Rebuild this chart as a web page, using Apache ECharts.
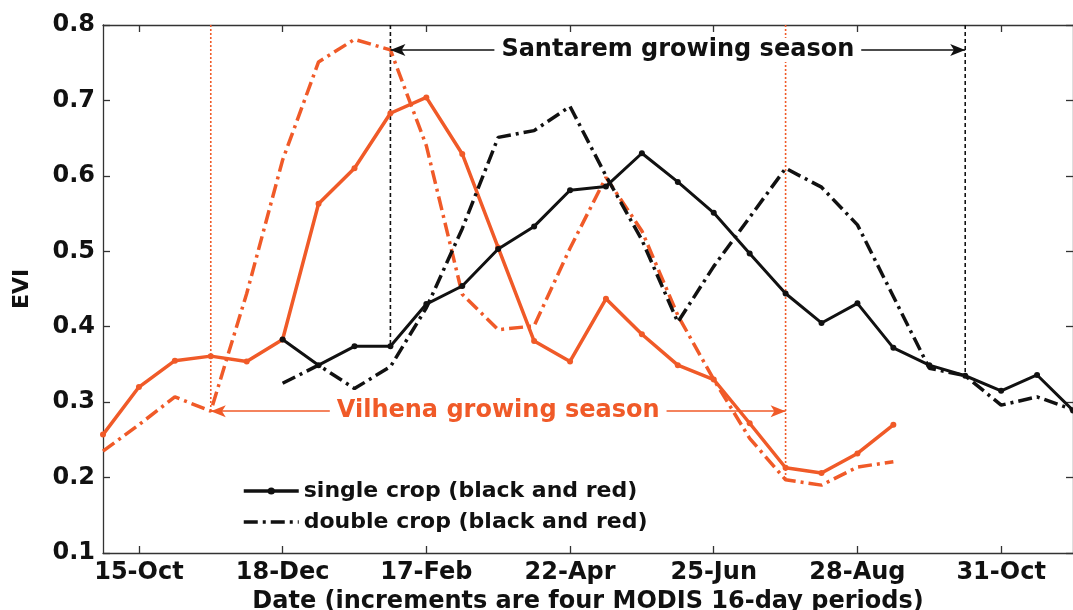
<!DOCTYPE html>
<html>
<head>
<meta charset="utf-8">
<script src="https://cdn.jsdelivr.net/npm/echarts@6/dist/echarts.min.js"></script>
<style>
html, body { margin: 0; padding: 0; background: #fff; }
#evi { width: 1073px; height: 610px; }
</style>
</head>
<body>
<div id="evi"></div>
<script>
// x = MODIS 16-day period, counted from 15-Oct (= 0)
var periods = [-1, 0, 1, 2, 3, 4, 5, 6, 7, 8, 9, 10, 11, 12, 13,
               14, 15, 16, 17, 18, 19, 20, 21, 22, 23, 24, 25, 26];

// Vilhena (red)
var vilhenaSingle = [0.257, 0.320, 0.355, 0.361, 0.354, 0.383, 0.563, 0.610, 0.683, 0.704,
                     0.629, 0.505, 0.381, 0.354, 0.437, 0.390, 0.349, 0.330, 0.272, 0.213,
                     0.206, 0.232, 0.270, null, null, null, null, null];
var vilhenaDouble = [0.235, 0.270, 0.307, 0.288, 0.444, 0.621, 0.751, 0.781, 0.767, 0.640,
                     0.443, 0.396, 0.401, 0.504, 0.598, 0.527, 0.415, 0.330, 0.252, 0.197,
                     0.190, 0.214, 0.221, null, null, null, null, null];

// Santarem (black)
var santaremSingle = [null, null, null, null, null, 0.383, 0.349, 0.374, 0.374, 0.430,
                      0.454, 0.503, 0.533, 0.581, 0.586, 0.630, 0.592, 0.551, 0.497, 0.444,
                      0.405, 0.431, 0.372, 0.349, 0.335, 0.315, 0.336, 0.289];
var santaremDouble = [null, null, null, null, null, 0.325, 0.349, 0.318, 0.347, 0.425,
                      0.530, 0.651, 0.660, 0.692, 0.600, 0.515, 0.406, 0.480, 0.545, 0.610,
                      0.585, 0.535, 0.440, 0.345, 0.335, 0.296, 0.307, 0.290];

var tickPeriods = [0, 4, 8, 12, 16, 20, 24];
var tickLabels = ['15-Oct', '18-Dec', '17-Feb', '22-Apr', '25-Jun', '28-Aug', '31-Oct'];

// growing season start / end periods and arrow heights
var vilhenaSeason = [2, 18];
var santaremSeason = [7, 23];
var vilhenaArrowY = 0.288;
var santaremArrowY = 0.767;

var RED = '#f05a28';
var INK = '#111111';
var FONT = 'DejaVu Sans';

function pairs(values) {
    return periods.map(function (p, i) { return [p, values[i]]; });
}
function valueAt(values, period) {
    return values[periods.indexOf(period)];
}

function seasonLine(period, bottom, color, dash) {
    return {
        type: 'line', silent: true, z: 1, symbol: 'none',
        data: [[period, 0.8], [period, bottom]],
        lineStyle: { color: color, width: 1.6, type: dash }
    };
}

function seasonArrow(season, y, text, color) {
    return {
        type: 'line', silent: true, z: 6, data: [],
        markLine: {
            silent: true, animation: false,
            symbol: ['arrow', 'arrow'], symbolSize: [9, 15],
            lineStyle: { color: color, width: 1.6, type: 'solid' },
            label: {
                show: true, position: 'middle', distance: [0, -12],
                formatter: text, color: color,
                fontFamily: FONT, fontWeight: 'bold', fontSize: 24,
                backgroundColor: '#ffffff', padding: [0, 7]
            },
            emphasis: { disabled: true },
            data: [[{ coord: [season[0], y] }, { coord: [season[1], y] }]]
        }
    };
}

var chart = echarts.init(document.getElementById('evi'));

var option = {
    animation: false,
    backgroundColor: '#ffffff',
    grid: { left: 103, right: 0, top: 25, bottom: 57, outerBoundsMode: 'none' },
    legend: {
        left: 237, top: 475, orient: 'vertical',
        itemWidth: 55, itemHeight: 9, itemGap: 9,
        selectedMode: false,
        lineStyle: { width: 3.5 },
        data: [
            { name: 'single crop (black and red)' },
            { name: 'double crop (black and red)', itemStyle: { opacity: 0 } }
        ],
        textStyle: { color: INK, fontFamily: FONT, fontWeight: 'bold', fontSize: 22, lineHeight: 22 }
    },
    xAxis: [{
        type: 'value', min: -1, max: 26,
        name: 'Date (increments are four MODIS 16-day periods)',
        nameLocation: 'middle', nameGap: 36,
        nameTextStyle: { color: INK, fontFamily: FONT, fontWeight: 'bold', fontSize: 24 },
        axisLine: { show: true, onZero: false, lineStyle: { color: '#333', width: 1.3 } },
        axisTick: { show: true, inside: true, length: 7, customValues: tickPeriods,
                    lineStyle: { color: '#333', width: 1.3 } },
        axisLabel: {
            customValues: tickPeriods, margin: 8,
            color: INK, fontFamily: FONT, fontWeight: 'bold', fontSize: 24,
            formatter: function (v) { return tickLabels[tickPeriods.indexOf(v)]; }
        },
        splitLine: { show: false }
    }, {
        type: 'value', min: -1, max: 26, position: 'top',
        axisLine: { show: true, onZero: false, lineStyle: { color: '#333', width: 1.3 } },
        axisTick: { show: true, inside: true, length: 7, customValues: tickPeriods,
                    lineStyle: { color: '#333', width: 1.3 } },
        axisLabel: { show: false },
        splitLine: { show: false }
    }],
    yAxis: [{
        type: 'value', min: 0.1, max: 0.8, interval: 0.1,
        name: 'EVI', nameLocation: 'middle', nameGap: 70,
        nameTextStyle: { color: INK, fontFamily: FONT, fontWeight: 'bold', fontSize: 22 },
        axisLine: { show: true, onZero: false, lineStyle: { color: '#333', width: 1.3 } },
        axisTick: { show: true, inside: true, length: 7, lineStyle: { color: '#333', width: 1.3 } },
        axisLabel: {
            margin: 8, color: INK, fontFamily: FONT, fontWeight: 'bold', fontSize: 24,
            formatter: function (v) { return v.toFixed(1); }
        },
        splitLine: { show: false }
    }, {
        type: 'value', min: 0.1, max: 0.8, interval: 0.1, position: 'right',
        axisLine: { show: true, onZero: false, lineStyle: { color: '#333', width: 1.3 } },
        axisTick: { show: true, inside: true, length: 7, lineStyle: { color: '#333', width: 1.3 } },
        axisLabel: { show: false },
        splitLine: { show: false }
    }],
    series: [
        seasonLine(vilhenaSeason[0], valueAt(vilhenaDouble, vilhenaSeason[0]), RED, [2, 2]),
        seasonLine(vilhenaSeason[1], valueAt(vilhenaDouble, vilhenaSeason[1]), RED, [2, 2]),
        seasonLine(santaremSeason[0], valueAt(santaremSingle, santaremSeason[0]), INK, [4, 3]),
        seasonLine(santaremSeason[1], valueAt(santaremSingle, santaremSeason[1]), INK, [4, 3]),
        {
            name: 'Vilhena double', type: 'line', z: 2, symbol: 'none',
            data: pairs(vilhenaDouble),
            lineStyle: { color: RED, width: 3.5, type: [14, 5, 3, 5] }
        },
        {
            name: 'Vilhena single', type: 'line', z: 3,
            symbol: 'circle', symbolSize: 6,
            data: pairs(vilhenaSingle),
            itemStyle: { color: RED },
            lineStyle: { color: RED, width: 3.5 }
        },
        {
            name: 'double crop (black and red)', type: 'line', z: 4, symbol: 'none',
            data: pairs(santaremDouble),
            itemStyle: { color: INK },
            lineStyle: { color: INK, width: 3.5, type: [14, 5, 3, 5] }
        },
        {
            name: 'single crop (black and red)', type: 'line', z: 5,
            symbol: 'circle', symbolSize: 6,
            data: pairs(santaremSingle),
            itemStyle: { color: INK },
            lineStyle: { color: INK, width: 3 }
        },
        seasonArrow(santaremSeason, santaremArrowY, 'Santarem growing season', INK),
        seasonArrow(vilhenaSeason, vilhenaArrowY, 'Vilhena growing season', RED)
    ]
};

chart.setOption(option);
</script>
</body>
</html>
